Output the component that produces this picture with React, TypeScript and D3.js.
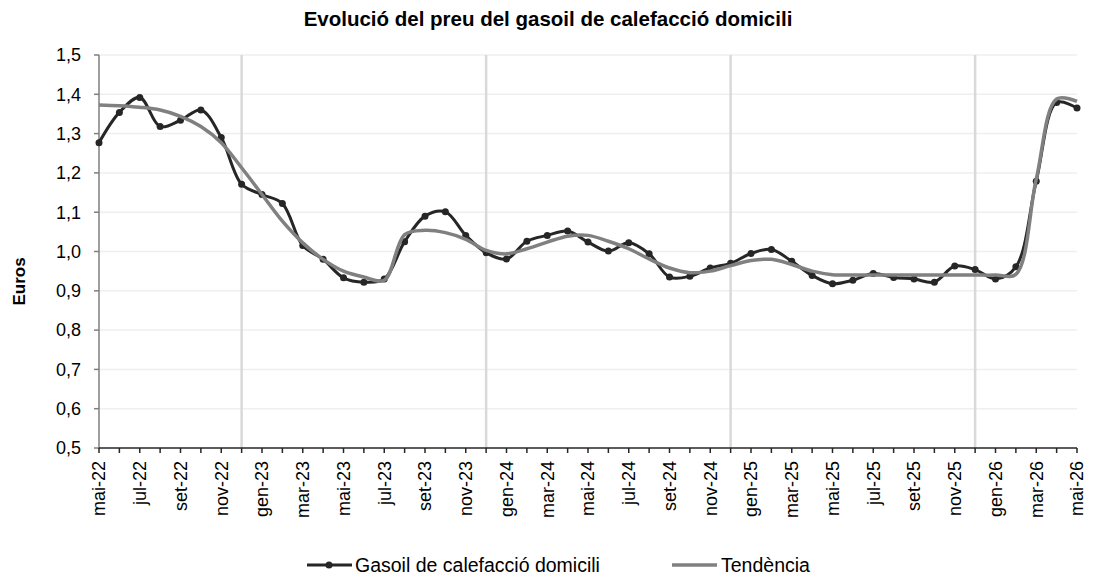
import React from 'react';
import * as d3 from 'd3';

// Mesos (abreviatures en català) i període mostrat: mai-22 a mai-26
const monthNames = ['gen', 'feb', 'mar', 'abr', 'mai', 'jun', 'jul', 'ago', 'set', 'oct', 'nov', 'des'];
const startMonth = 4; // mai
const startYear = 22;
const nMonths = 49;

// Preu del gasoil de calefacció domicili (euros/litre)
const gasoil = [
  1.277, 1.354, 1.392, 1.318, 1.334, 1.360, 1.290, 1.171, 1.145, 1.122,
  1.015, 0.980, 0.933, 0.922, 0.930, 1.025, 1.090, 1.101, 1.041, 0.997,
  0.981, 1.026, 1.041, 1.052, 1.024, 1.001, 1.022, 0.994, 0.935, 0.937,
  0.958, 0.970, 0.995, 1.005, 0.975, 0.939, 0.918, 0.927, 0.944, 0.934,
  0.930, 0.922, 0.963, 0.954, 0.930, 0.961, 1.179, 1.379, 1.365,
];

// Tendència
const tendencia = [
  1.373, 1.371, 1.367, 1.360, 1.344, 1.318, 1.277, 1.213, 1.145, 1.077,
  1.022, 0.980, 0.950, 0.935, 0.927, 1.043, 1.054, 1.048, 1.031, 1.003,
  0.994, 1.007, 1.024, 1.039, 1.041, 1.026, 1.007, 0.981, 0.958, 0.946,
  0.950, 0.964, 0.977, 0.980, 0.967, 0.950, 0.941, 0.940, 0.940, 0.940,
  0.940, 0.940, 0.940, 0.940, 0.940, 0.942, 1.184, 1.388, 1.382,
];

const yTicks = [0.5, 0.6, 0.7, 0.8, 0.9, 1.0, 1.1, 1.2, 1.3, 1.4, 1.5];

const months = d3.range(nMonths).map(i => {
  const m = (startMonth + i) % 12;
  const y = startYear + Math.floor((startMonth + i) / 12);
  return `${monthNames[m]}-${y}`;
});

const FONT = 'Arial, "Liberation Sans", sans-serif';

const App = () => {
  const width = 1094;
  const height = 577;
  const margin = { top: 55, right: 17, bottom: 129, left: 99 };
  const innerW = width - margin.left - margin.right;
  const innerH = height - margin.top - margin.bottom;

  const x = d3.scaleLinear().domain([0, nMonths - 1]).range([0, innerW]);
  const y = d3.scaleLinear().domain([0.5, 1.5]).range([innerH, 0]);

  const line = d3.line<number>()
    .x((_, i) => x(i))
    .y(d => y(d))
    .curve(d3.curveCatmullRom.alpha(0.5));

  // separadors verticals al desembre de cada any
  const decIdx = months.map((m, i) => (m.startsWith('des') ? i : -1)).filter(i => i >= 0);
  const labelIdx = months.map((_, i) => i).filter(i => i % 2 === 0);

  return (
    <div style={{ position: 'absolute', left: 0, top: 0 }}>
      <svg width={width} height={height} style={{ display: 'block', background: '#fff' }} fontFamily={FONT}>
        <text x={548} y={26} textAnchor="middle" fontSize="20.5" fontWeight="bold" fill="#000">
          Evolució del preu del gasoil de calefacció domicili
        </text>

        <g transform={`translate(${margin.left},${margin.top})`}>
          {/* Gridlines */}
          {yTicks.filter(t => t > 0.5).map(t => (
            <line key={t} x1={0} x2={innerW} y1={y(t)} y2={y(t)} stroke="#efefef" strokeWidth="1.5" />
          ))}
          {decIdx.map(i => (
            <line key={i} x1={x(i)} x2={x(i)} y1={0} y2={innerH} stroke="#d9d9d9" strokeWidth="2.5" />
          ))}

          {/* Y axis */}
          <line x1={0} x2={0} y1={0} y2={innerH} stroke="#7f7f7f" strokeWidth="1.5" />
          {yTicks.map(t => (
            <g key={t} transform={`translate(0,${y(t)})`}>
              <line x1={-5} x2={0} stroke="#7f7f7f" strokeWidth="1.5" />
              <text x={-18} dy="0.35em" textAnchor="end" fontSize="18" fill="#000">
                {t.toFixed(1).replace('.', ',')}
              </text>
            </g>
          ))}
          <text transform={`translate(-74,${innerH / 2 + 30}) rotate(-90)`} textAnchor="middle"
            fontSize="17" fontWeight="bold" fill="#000">
            Euros
          </text>

          {/* X axis */}
          <line x1={0} x2={innerW} y1={innerH} y2={innerH} stroke="#262626" strokeWidth="1.5" />
          {months.map((_, i) => (
            <line key={i} x1={x(i)} x2={x(i)} y1={innerH} y2={innerH + 5} stroke="#262626" strokeWidth="1.5" />
          ))}
          {labelIdx.map(i => (
            <text key={i} transform={`translate(${x(i)},${innerH + 13}) rotate(-90)`} dy="0.35em"
              textAnchor="end" fontSize="18" fill="#000">
              {months[i]}
            </text>
          ))}

          {/* Series */}
          <path d={line(gasoil) || ''} fill="none" stroke="#262626" strokeWidth="3" />
          {gasoil.map((v, i) => (
            <circle key={i} cx={x(i)} cy={y(v)} r="3.5" fill="#262626" />
          ))}
          <path d={line(tendencia) || ''} fill="none" stroke="#808080" strokeWidth="3.5" />
        </g>

        {/* Legend */}
        <g transform="translate(0,565)">
          <line x1={307} x2={352} y1={0} y2={0} stroke="#262626" strokeWidth="3" />
          <circle cx={329} cy={0} r="3.5" fill="#262626" />
          <text x={355} dy="0.35em" fontSize="19.5" fill="#000">Gasoil de calefacció domicili</text>
          <line x1={672} x2={717} y1={0} y2={0} stroke="#808080" strokeWidth="3.5" />
          <text x={721} dy="0.35em" fontSize="19.5" fill="#000">Tendència</text>
        </g>
      </svg>
    </div>
  );
};

export default App;
